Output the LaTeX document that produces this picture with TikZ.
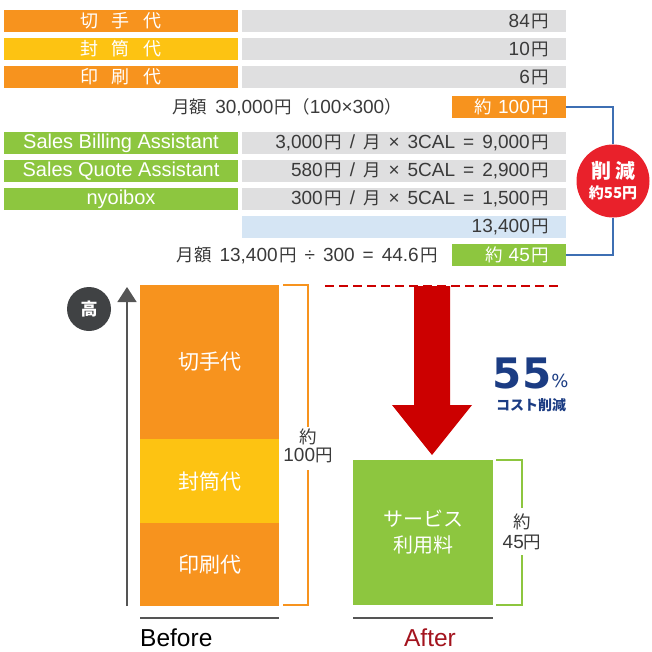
\documentclass[tikz,border=0pt]{standalone}
\usepackage{fontspec}
\setmainfont{Liberation Sans}
\newfontfamily\jpf{Noto Sans CJK JP}
\newfontfamily\jps[Scale=0.92]{Noto Sans CJK JP}
\newfontfamily\dvs{DejaVu Sans}
\usetikzlibrary{arrows.meta}
\definecolor{cOr}{HTML}{F7931E}
\definecolor{cYe}{HTML}{FDC312}
\definecolor{cGr}{HTML}{8DC63F}
\definecolor{cGy}{HTML}{DFDFE0}
\definecolor{cBl}{HTML}{D5E5F4}
\definecolor{cLine}{HTML}{3E6FB3}
\definecolor{cRed}{HTML}{E9212B}
\definecolor{cArr}{HTML}{CC0000}
\definecolor{cNavy}{HTML}{1B3C83}
\definecolor{cTxt}{HTML}{3A3A3A}
\definecolor{cDk}{HTML}{404244}
\definecolor{cAx}{HTML}{555555}
\definecolor{cAfter}{HTML}{A3141E}
\newcommand{\fs}[1]{\fontsize{#1}{#1}\selectfont}
\newcommand{\J}[1]{{\jps #1}}
\newcommand{\Y}{\hspace{1.5pt}\J{円}}
\newcommand{\gp}{\hspace{8pt}}
\begin{document}
\begin{tikzpicture}[x=1pt,y=-1pt,
  cell/.style={rectangle,inner sep=0pt,minimum height=22pt},
  lab/.style={cell,minimum width=234pt,text=white,font=\fs{20}},
  val/.style={cell,minimum width=324pt,fill=cGy},
  valtxt/.style={anchor=east,inner sep=0pt,text=cTxt,font=\fs{19}},
  tot/.style={cell,minimum width=114pt,text=white},
  bar/.style={rectangle,inner sep=0pt,minimum width=139pt,text=white,font=\fs{21}\jpf},
  brk/.style={line width=1.5pt},
  brktxt/.style={inner sep=0pt,text=cTxt,font=\fs{19}},
  conn/.style={cLine,line width=1.3pt}]
\useasboundingbox (0,0) rectangle (652,652);
% top table
\node[lab,fill=cOr,font=\fs{18}\jpf] (l1) at (121,21) {切\hspace{14pt}手\hspace{14pt}代};
\node[lab,fill=cYe,font=\fs{18}\jpf] (l2) at (121,49) {封\hspace{14pt}筒\hspace{14pt}代};
\node[lab,fill=cOr,font=\fs{18}\jpf] (l3) at (121,77) {印\hspace{14pt}刷\hspace{14pt}代};
\node[val] (v1) at (404,21) {};
\node[val] (v2) at (404,49) {};
\node[val] (v3) at (404,77) {};
\node[valtxt] (t1) at (549,21) {84\Y};
\node[valtxt] (t2) at (549,49) {10\Y};
\node[valtxt] (t3) at (549,77) {6\Y};
\node[valtxt] (m1) at (402,107) {\J{月額}\gp 30,000\Y\J{（}100×300\J{）}};
\node[tot,fill=cOr] (o100) at (509,107) {};
\node[valtxt,text=white] (o100t) at (549,107) {\J{約}\hspace{6pt}100\Y};
% lower table
\node[lab,fill=cGr] (l4) at (121,143) {Sales Billing Assistant};
\node[lab,fill=cGr] (l5) at (121,171) {Sales Quote Assistant};
\node[lab,fill=cGr] (l6) at (121,199) {nyoibox};
\node[val] (v4) at (404,143) {};
\node[val] (v5) at (404,171) {};
\node[val] (v6) at (404,199) {};
\node[val,fill=cBl] (v7) at (404,227) {};
\node[valtxt] (t4) at (549,143) {3,000\Y\gp/\gp\J{月}\gp×\gp 3CAL\gp=\gp 9,000\Y};
\node[valtxt] (t5) at (549,171) {580\Y\gp/\gp\J{月}\gp×\gp 5CAL\gp=\gp 2,900\Y};
\node[valtxt] (t6) at (549,199) {300\Y\gp/\gp\J{月}\gp×\gp 5CAL\gp=\gp 1,500\Y};
\node[valtxt] (t7) at (549,227) {13,400\Y};
\node[valtxt] (m2) at (438,255) {\J{月額}\gp 13,400\Y\gp÷\gp 300\gp=\gp 44.6\Y};
\node[tot,fill=cGr] (o45) at (509,255) {};
\node[valtxt,text=white] (o45t) at (549,255) {\J{約}\hspace{6pt}45\Y};
% reduction circle
\node[circle,fill=cRed,minimum size=73pt,inner sep=0pt,text=white,align=center,
  font=\fontsize{15}{20}\selectfont\jpf\bfseries] (cut) at (613,181)
  {{\fontsize{20}{20}\selectfont 削\hspace{4pt}減}\\約55円};
\draw[conn] (o100.east) -| (cut.north);
\draw[conn] (o45.east) -| (cut.south);
% chart
\node[circle,fill=cDk,minimum size=44pt,inner sep=0pt,text=white,font=\fs{17}\jpf\bfseries] (hi) at (89,309) {高};
\coordinate (axB) at (127,606);
\coordinate (axT) at (127,287);
\draw[cAx,line width=1.5pt,-{Triangle[width=19pt,length=15pt]}] (axB) -- (axT);
\node[bar,fill=cOr,minimum height=154pt] (b1) at (209.5,362) {切手代};
\node[bar,fill=cYe,minimum height=84pt] (b2) at (209.5,481) {封筒代};
\node[bar,fill=cOr,minimum height=83pt] (b3) at (209.5,564.5) {印刷代};
\draw[brk,cOr] (283,285) -- (308,285) -- (308,427);
\draw[brk,cOr] (308,470) -- (308,605) -- (283,605);
\node[brktxt] (y1) at (308,437) {\J{約}};
\node[brktxt] (y2) at (308,455) {100\J{円}};
\draw[cAx,line width=1.5pt] (140,618) -- (279,618);
\node[anchor=west,inner sep=0pt,font=\fs{24.5}] (bef) at (140,638) {Before};
% after
\draw[cArr,line width=1.5pt,dash pattern=on 9pt off 5pt] (325,286) -- (559,286);
\fill[cArr] (414,286) -- (450,286) -- (450,405) -- (472,405) -- (432,455) -- (392,405) -- (414,405) -- cycle;
\node[inner sep=0pt,text=cNavy,font=\fs{42}\dvs\bfseries] (p55) at (522,373) {55};
\node[inner sep=0pt,text=cNavy,font=\fs{18}\dvs] (pc) at (560,381) {\%};
\node[inner sep=0pt,text=cNavy,font=\fs{14}\jpf\bfseries] (cr) at (531,405) {コスト削減};
\node[rectangle,inner sep=0pt,fill=cGr,minimum width=140pt,minimum height=145pt,text=white,font=\fs{20}\jpf,align=center] (svc) at (423,532.5) {サービス\\[6pt]利用料};
\draw[brk,cGr] (496,460) -- (522,460) -- (522,508);
\draw[brk,cGr] (522,555) -- (522,605) -- (496,605);
\node[brktxt] (z1) at (522,522) {\J{約}};
\node[brktxt] (z2) at (522,542) {45\J{円}};
\draw[cAx,line width=1.5pt] (353,618) -- (493,618);
\node[inner sep=0pt,text=cAfter,font=\fs{24.5}] (aft) at (430,638) {After};
\end{tikzpicture}
\end{document}
